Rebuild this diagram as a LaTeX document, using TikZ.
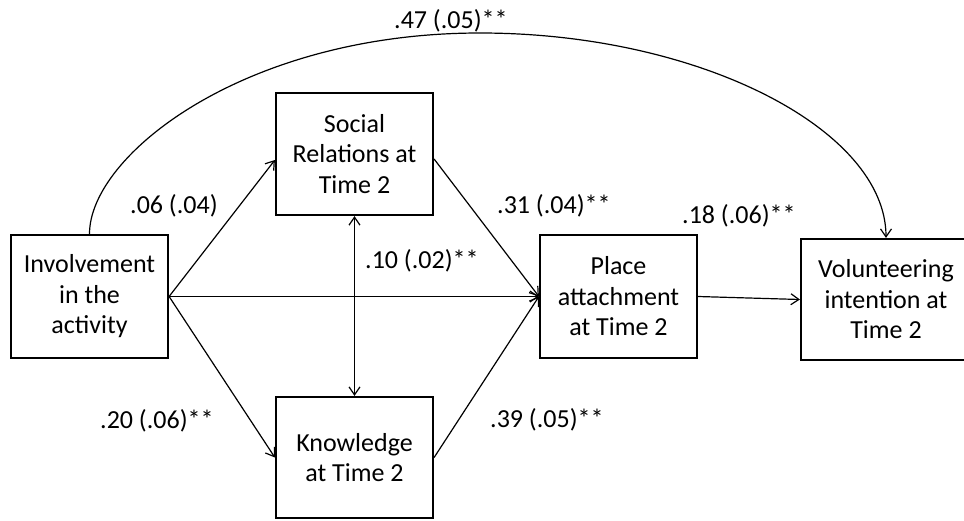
\documentclass[tikz,border=0pt]{standalone}
\usepackage{fontspec}
\setmainfont{Carlito}
\usetikzlibrary{arrows.meta}
\begin{document}
\begin{tikzpicture}[x=1pt,y=-1pt,
  box/.style={draw=black,line width=2.2pt,minimum width=157pt,align=center,
    inner sep=0pt,font=\fontsize{26}{30.5}\selectfont},
  conn/.style={draw=black,line width=1.2pt,-{Straight Barb[length=8pt,width=11pt]}},
  lbl/.style={anchor=base west,inner sep=0pt,font=\fontsize{26}{30}\selectfont}]
\path[use as bounding box] (0,0) rectangle (964,520);
\clip (0,0) rectangle (964,520);
% boxes
\node[box,minimum height=123pt] (inv) at (89.5,296.5) {Involvement\\in the\\activity};
\node[box,minimum height=122pt] (soc) at (354.5,154) {Social\\Relations at\\Time 2};
\node[box,minimum height=121pt] (kno) at (354.5,457.5) {Knowledge\\at Time 2};
\node[box,minimum height=123pt] (pla) at (618.5,296.5) {Place\\attachment\\at Time 2};
\node[box,minimum height=121pt,minimum width=170pt] (vol) at (886,299.5) {Volunteering\\intention at\\Time 2};
% connectors
\draw[conn] (inv.east) -- ([yshift=-6pt]soc.west);
\draw[conn] (inv.east) -- (kno.west);
\draw[conn] (inv.east) -- (pla.west);
\draw[conn] ([yshift=-5pt]soc.east) -- (pla.west);
\draw[conn] (kno.east) -- (pla.west);
\draw[conn] (pla.east) -- (vol.west);
\draw[conn,{Straight Barb[length=8pt,width=11pt]}-{Straight Barb[length=8pt,width=11pt]}] (soc.south) -- (kno.north);
\coordinate (top) at (480,33);
\draw[conn] (inv.north) .. controls (89.5,155) and (245,33) .. (top)
  .. controls (700,33) and (886,130) .. (vol.north);
% labels
\node[lbl] (l47) at (394,28) {.47 (.05)**};
\node[lbl] (l06) at (130,213) {.06 (.04)};
\node[lbl] (l10) at (365,268) {.10 (.02)**};
\node[lbl] (l31) at (497,213) {.31 (.04)**};
\node[lbl] (l18) at (682,223) {.18 (.06)**};
\node[lbl] (l20) at (100,428) {.20 (.06)**};
\node[lbl] (l39) at (490,427) {.39 (.05)**};
\end{tikzpicture}
\end{document}
